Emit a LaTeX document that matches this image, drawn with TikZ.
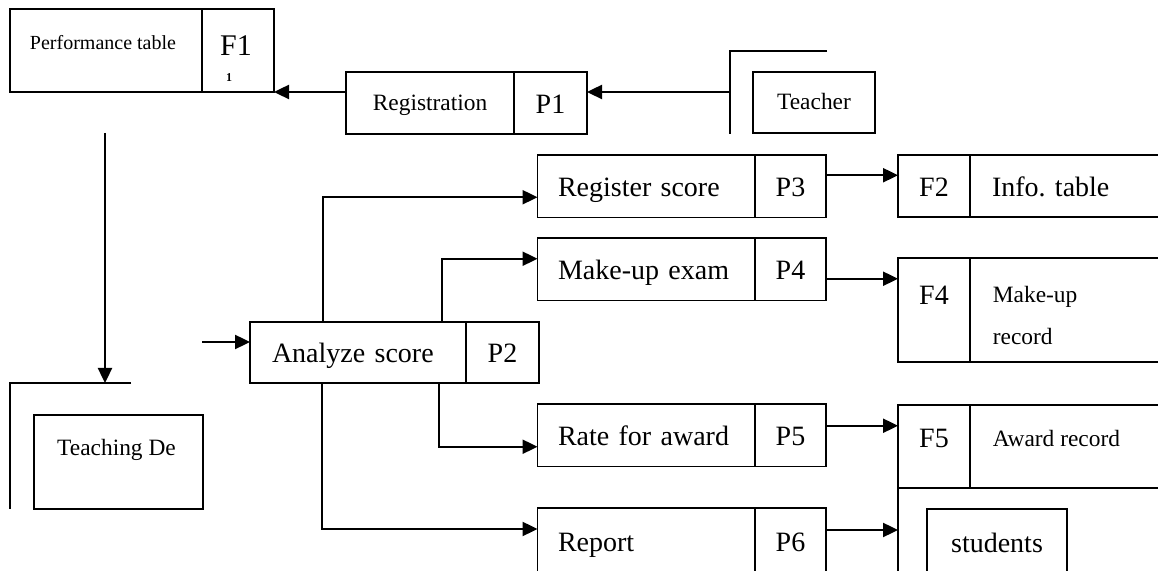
\documentclass[tikz,border=0pt]{standalone}
\usepackage{fontspec}
\setmainfont{Liberation Serif}
\usetikzlibrary{arrows.meta,calc}

\tikzset{every picture/.style={line width=0.9pt}}
\tikzset{
  cell/.style={draw, rectangle, inner sep=0pt, outer sep=0pt, anchor=north west},
  bigtxt/.style={font=\fontsize{14}{16}\selectfont, text height=12.5pt, text depth=2pt},
  midtxt/.style={font=\fontsize{11.7}{14}\selectfont},
  midcell/.style={midtxt, text height=9pt, text depth=1.5pt},
  procname/.style={cell, bigtxt, minimum height=31.25pt, text width=88.25pt, inner xsep=10.25pt, align=left},
  procid/.style={cell, bigtxt, minimum width=35.5pt, minimum height=31.25pt},
  fid/.style={cell, bigtxt, minimum width=36pt},
  fname/.style={cell, minimum width=100pt},
  flow/.style={line width=1.2pt, -{Triangle[length=7.5pt,width=7pt]}}
}

\begin{document}
\frenchspacing
\begin{tikzpicture}[x=0.5pt,y=0.5pt,yscale=-1,xscale=1]
\useasboundingbox (0,0) rectangle (1158,571);
\clip (0,0) rectangle (1158,571);

%Shape: Performance table
\node[cell, minimum width=96pt, minimum height=41.5pt] (perfname) at (10,9) {};
\node[cell, minimum width=36pt, minimum height=41.5pt] (perfid) at (perfname.north east) {};
% Text Node
\node[font=\fontsize{10}{12}\selectfont] (perftxt) at ($(perfname.north)+(-3,34)$) {Performance table};
\node[font=\fontsize{15}{17}\selectfont] (perfidtxt) at ($(perfid.north)+(-2,37)$) {F1};
\node[font=\fontsize{6}{7}\selectfont\bfseries] (perfsub) at ($(perfid.north)+(-9,69)$) {1};

%Shape: Registration
\node[cell, midcell, minimum width=84pt, minimum height=31pt] (regname) at (346,72) {Registration};
\node[cell, bigtxt, minimum width=36.5pt, minimum height=31pt] (regid) at (regname.north east) {P1};

%Shape: Teacher (external entity)
\coordinate (teachTL) at (730,51);
\draw ($(teachTL)+(97,0)$) -- (teachTL) -- ($(teachTL)+(0,83)$);
\node[cell, midcell, minimum width=61pt, minimum height=30.5pt] (teacher) at (753,72) {Teacher};

%Shape: Teaching De (external entity)
\coordinate (deptTL) at (10,383);
\draw ($(deptTL)+(121,0)$) -- (deptTL) -- ($(deptTL)+(0,126)$);
\node[cell, minimum width=84.5pt, minimum height=47pt] (dept) at (34,415) {};
\node[midtxt] (depttxt) at ($(dept.north)+(-2,35)$) {Teaching De};

%Shape: Analyze score
\node[cell, bigtxt, minimum height=30.5pt, text width=86pt, inner xsep=11pt, align=left] (ananame) at (250,322) {Analyze score};
\node[cell, bigtxt, minimum width=36.5pt, minimum height=30.5pt] (anaid) at (ananame.north east) {P2};

%Shape: processes P3 to P6
\node[procname] (regsname) at (537.5,155) {Register score};
\node[procid] (regsid) at (regsname.north east) {P3};
\node[procname] (makename) at (537.5,238) {Make-up exam};
\node[procid] (makeid) at (makename.north east) {P4};
\node[procname] (ratename) at (537.5,404) {Rate for award};
\node[procid] (rateid) at (ratename.north east) {P5};
\node[procname, minimum height=33pt] (repname) at (537.5,508) {Report};
\node[procid, minimum height=33pt] (repid) at (repname.north east) {P6};

%Shape: data stores F2, F4, F5
\node[fid, minimum height=31pt] (f2id) at (898,155) {F2};
\node[fname, bigtxt, minimum height=31pt, text width=78pt, inner xsep=11pt, align=left] (f2name) at (f2id.north east) {Info. table};
\node[fid, minimum height=52pt] (f4id) at (898,258) {};
\node[fname, minimum height=52pt] (f4name) at (f4id.north east) {};
\node[fid, minimum height=41.5pt] (f5id) at (898,405) {};
\node[fname, minimum height=41.5pt] (f5name) at (f5id.north east) {};
% Text Node
\node[font=\fontsize{14}{16}\selectfont] (f4txt) at ($(f4id.north)+(0,37)$) {F4};
\node[midtxt, anchor=west, inner xsep=0pt] (f4l1) at ($(f4name.north west)+(22,39)$) {Make-up};
\node[midtxt, anchor=west, inner xsep=0pt] (f4l2) at ($(f4name.north west)+(22,78)$) {record};
\node[font=\fontsize{14}{16}\selectfont] (f5txt) at ($(f5id.north)+(0,33)$) {F5};
\node[midtxt, anchor=west, inner xsep=0pt] (f5l1) at ($(f5name.north west)+(22,33)$) {Award record};

%Shape: students (external entity)
\coordinate (stuTL) at (898,488);
\draw ($(stuTL)+(270,0)$) -- (stuTL) -- ($(stuTL)+(0,90)$);
\node[cell, bigtxt, minimum width=70pt, minimum height=33pt] (students) at (927,509) {students};

%Straight Lines: flows
\draw[flow] (teachTL |- perfid.south east) -- (regid.east |- perfid.south east);
\draw[flow] (regname.west |- perfid.south east) -- (perfid.south east);
\coordinate (perfout) at (105,133);
\draw[flow] (perfout) -- (perfout |- deptTL);
\coordinate (anain) at (202,342);
\draw[flow] (anain) -- (anain -| ananame.west);

\draw[flow] ($(ananame.north west)+(73,0)$) |- ($(regsname.west)+(0,11)$);
\draw[flow] ($(ananame.north west)+(192,0)$) |- ($(makename.west)+(0,-10.5)$);
\draw[flow] ($(ananame.south west)+(189,0)$) |- ($(ratename.west)+(0,11.5)$);
\draw[flow] ($(ananame.south west)+(72,0)$) |- ($(repname.west)+(0,-12)$);

\coordinate (p3out) at ($(regsid.east)+(0,-11)$);
\draw[flow] (p3out) -- (p3out -| f2id.west);
\coordinate (p4out) at ($(makeid.east)+(0,9.5)$);
\draw[flow] (p4out) -- (p4out -| f4id.west);
\coordinate (p5out) at ($(rateid.east)+(0,-9.5)$);
\draw[flow] (p5out) -- (p5out -| f5id.west);
\coordinate (p6out) at ($(repid.east)+(0,-11)$);
\draw[flow] (p6out) -- (p6out -| stuTL);

\end{tikzpicture}
\end{document}
